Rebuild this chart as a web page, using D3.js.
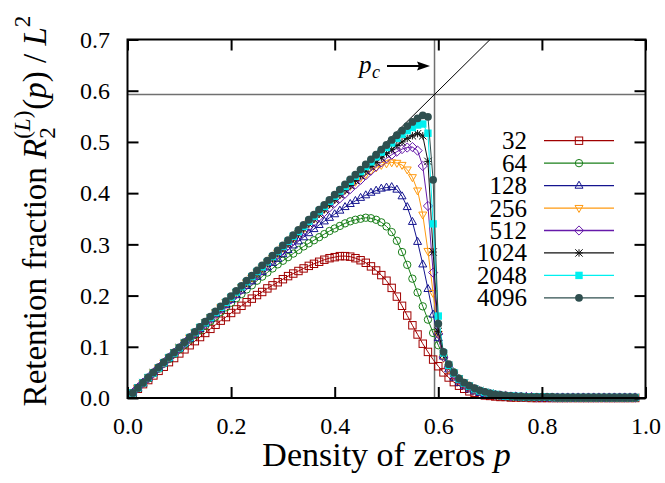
<!DOCTYPE html>
<html><head><meta charset="utf-8">
<script src="https://cdn.jsdelivr.net/npm/d3@7"></script>
<style>
body{margin:0;background:#fff}
svg{display:block}
text{font-family:"Liberation Serif","Times New Roman",serif;fill:#000}
</style></head>
<body><svg id="c" width="665" height="483"></svg>
<script>
// ---------------- DATA ----------------
const pGrid = d3.range(1, 99).map(i => i / 100); // p = 0.01 ... 0.98
const sizeLabels = ["32", "64", "128", "256", "512", "1024", "2048", "4096"];
const xTickValues = [0, 0.2, 0.4, 0.6, 0.8, 1.0];
const yTickValues = [0, 0.1, 0.2, 0.3, 0.4, 0.5, 0.6, 0.7];
const pCritical = 0.5927;

const L32 = [
0.009,0.018,0.027,0.035,0.044,0.053,0.061,0.070,0.078,0.087,
0.095,0.103,0.111,0.119,0.127,0.135,0.143,0.151,0.158,0.166,
0.173,0.180,0.187,0.194,0.201,0.207,0.214,0.220,0.226,0.232,
0.238,0.243,0.248,0.253,0.258,0.262,0.266,0.270,0.273,0.275,
0.277,0.277,0.276,0.273,0.269,0.264,0.257,0.249,0.240,0.229,
0.215,0.198,0.180,0.161,0.142,0.124,0.106,0.090,0.075,0.062,
0.050,0.040,0.031,0.024,0.018,0.013,0.010,0.007,0.005,0.004,
0.003,0.002,0.002,0.001,0.001,0.001,0.001,0.000,0.000,0.000,
0.000,0.000,0.000,0.000,0.000,0.000,0.000,0.000,0.000,0.000,
0.000,0.000,0.000,0.000,0.000,0.000,0.000,0.000];
const L64 = [
0.010,0.019,0.029,0.038,0.048,0.057,0.067,0.076,0.086,0.095,
0.104,0.114,0.123,0.132,0.141,0.150,0.159,0.168,0.177,0.186,
0.195,0.203,0.212,0.220,0.229,0.237,0.245,0.253,0.261,0.268,
0.275,0.282,0.289,0.296,0.302,0.308,0.314,0.320,0.326,0.331,
0.336,0.341,0.345,0.348,0.350,0.352,0.351,0.348,0.343,0.335,
0.324,0.307,0.285,0.260,0.233,0.206,0.179,0.153,0.127,0.103,
0.082,0.064,0.050,0.038,0.029,0.022,0.016,0.012,0.009,0.007,
0.005,0.004,0.003,0.002,0.002,0.001,0.001,0.001,0.001,0.001,
0.001,0.001,0.000,0.000,0.000,0.000,0.000,0.000,0.000,0.000,
0.000,0.000,0.000,0.000,0.000,0.000,0.000,0.000];
const L128 = [
0.010,0.020,0.029,0.039,0.049,0.059,0.068,0.078,0.088,0.097,
0.107,0.116,0.126,0.135,0.145,0.154,0.164,0.173,0.182,0.192,
0.201,0.210,0.219,0.228,0.237,0.246,0.255,0.264,0.272,0.281,
0.289,0.298,0.306,0.314,0.322,0.330,0.338,0.345,0.352,0.359,
0.366,0.373,0.379,0.385,0.391,0.396,0.401,0.405,0.409,0.411,
0.412,0.407,0.394,0.373,0.344,0.305,0.261,0.213,0.163,0.117,
0.081,0.056,0.040,0.030,0.023,0.017,0.013,0.010,0.008,0.006,
0.005,0.004,0.003,0.003,0.002,0.002,0.002,0.001,0.001,0.001,
0.001,0.001,0.001,0.001,0.001,0.001,0.001,0.001,0.001,0.001,
0.001,0.001,0.001,0.001,0.001,0.001,0.001,0.001];
const L256 = [
0.010,0.020,0.030,0.040,0.050,0.059,0.069,0.079,0.089,0.099,
0.108,0.118,0.128,0.138,0.148,0.157,0.167,0.177,0.187,0.196,
0.206,0.216,0.225,0.235,0.245,0.254,0.264,0.273,0.283,0.293,
0.303,0.312,0.322,0.331,0.341,0.350,0.360,0.369,0.379,0.388,
0.397,0.406,0.414,0.422,0.430,0.437,0.444,0.450,0.455,0.458,
0.460,0.459,0.455,0.446,0.431,0.405,0.358,0.287,0.205,0.125,
0.078,0.057,0.044,0.034,0.027,0.021,0.016,0.013,0.010,0.008,
0.006,0.005,0.004,0.003,0.002,0.002,0.002,0.001,0.001,0.001,
0.001,0.001,0.001,0.001,0.001,0.001,0.001,0.001,0.001,0.001,
0.001,0.001,0.001,0.001,0.001,0.001,0.001,0.001];
const L512 = [
0.010,0.020,0.030,0.039,0.049,0.059,0.068,0.078,0.088,0.097,
0.107,0.117,0.126,0.136,0.145,0.155,0.165,0.174,0.184,0.193,
0.203,0.212,0.222,0.231,0.241,0.250,0.260,0.269,0.279,0.288,
0.298,0.307,0.316,0.326,0.335,0.344,0.354,0.363,0.372,0.381,
0.390,0.399,0.408,0.417,0.426,0.435,0.444,0.452,0.460,0.468,
0.475,0.481,0.486,0.489,0.490,0.483,0.453,0.375,0.245,0.125,
0.080,0.060,0.046,0.036,0.028,0.022,0.017,0.013,0.010,0.008,
0.006,0.005,0.004,0.003,0.003,0.002,0.002,0.002,0.001,0.001,
0.001,0.001,0.001,0.001,0.001,0.001,0.001,0.001,0.001,0.001,
0.001,0.001,0.001,0.001,0.001,0.001,0.001,0.001];
const L1024 = [
0.010,0.020,0.030,0.039,0.049,0.059,0.069,0.078,0.088,0.098,
0.107,0.117,0.127,0.137,0.146,0.156,0.166,0.175,0.185,0.195,
0.205,0.214,0.224,0.234,0.243,0.253,0.263,0.272,0.282,0.292,
0.301,0.311,0.320,0.330,0.340,0.349,0.359,0.368,0.378,0.387,
0.397,0.406,0.415,0.425,0.434,0.443,0.452,0.460,0.469,0.477,
0.485,0.493,0.500,0.507,0.512,0.516,0.512,0.462,0.285,0.130,
0.085,0.063,0.048,0.037,0.029,0.023,0.018,0.014,0.011,0.009,
0.007,0.005,0.004,0.003,0.003,0.002,0.002,0.002,0.002,0.001,
0.001,0.001,0.001,0.001,0.001,0.001,0.001,0.001,0.001,0.001,
0.001,0.001,0.001,0.001,0.001,0.001,0.001,0.001];
const L2048 = [
0.010,0.020,0.030,0.040,0.049,0.059,0.069,0.079,0.088,0.098,
0.108,0.118,0.128,0.138,0.147,0.157,0.167,0.177,0.187,0.197,
0.207,0.217,0.227,0.237,0.247,0.256,0.266,0.276,0.286,0.296,
0.306,0.316,0.325,0.335,0.345,0.355,0.365,0.374,0.384,0.394,
0.404,0.413,0.423,0.433,0.442,0.452,0.461,0.471,0.480,0.489,
0.498,0.507,0.515,0.522,0.528,0.533,0.535,0.517,0.340,0.160,
0.088,0.064,0.049,0.037,0.029,0.023,0.018,0.014,0.011,0.009,
0.007,0.005,0.004,0.004,0.003,0.003,0.002,0.002,0.002,0.002,
0.002,0.001,0.001,0.001,0.001,0.001,0.001,0.001,0.001,0.001,
0.001,0.001,0.001,0.001,0.001,0.001,0.001,0.001];
const L4096 = [
0.010,0.020,0.030,0.040,0.050,0.060,0.070,0.080,0.089,0.099,
0.109,0.119,0.129,0.139,0.149,0.159,0.169,0.179,0.189,0.199,
0.209,0.219,0.229,0.239,0.249,0.259,0.268,0.278,0.288,0.298,
0.308,0.318,0.328,0.338,0.348,0.358,0.368,0.377,0.387,0.397,
0.407,0.417,0.427,0.436,0.446,0.456,0.466,0.475,0.485,0.494,
0.504,0.513,0.522,0.531,0.539,0.546,0.552,0.549,0.426,0.145,
0.090,0.066,0.050,0.038,0.030,0.024,0.019,0.015,0.012,0.009,
0.007,0.006,0.005,0.004,0.003,0.003,0.002,0.002,0.002,0.002,
0.002,0.002,0.001,0.001,0.001,0.001,0.001,0.001,0.001,0.001,
0.001,0.001,0.001,0.001,0.001,0.001,0.001,0.001];

const seriesValues = [L32, L64, L128, L256, L512, L1024, L2048, L4096];
const seriesColors = ["#a00000", "#1a7f1a", "#14148f", "#ff9a10", "#661aaa", "#111111", "#00f0f0", "#2f4f4f"];
const seriesMarkers = ["square", "circle", "triUp", "triDown", "diamond", "star", "fsquare", "fcircle"];

// ---------------- LAYOUT ----------------
const svg = d3.select("#c");
const plot = {left: 127.5, right: 645.5, top: 39.5, bottom: 398};
const x = d3.scaleLinear([0, 1], [plot.left, plot.right]);
const y = d3.scaleLinear([0, 0.7], [plot.bottom, plot.top]);

// reference lines
svg.append("line").attr("x1", x(0)).attr("x2", x(1)).attr("y1", y(pCritical)).attr("y2", y(pCritical))
  .attr("stroke", "#707070").attr("stroke-width", 1.5);
svg.append("line").attr("x1", x(pCritical)).attr("x2", x(pCritical)).attr("y1", y(0)).attr("y2", y(0.7))
  .attr("stroke", "#707070").attr("stroke-width", 1.5);
svg.append("line").attr("x1", x(0)).attr("y1", y(0)).attr("x2", x(0.7)).attr("y2", y(0.7))
  .attr("stroke", "#000").attr("stroke-width", 1);

// marker drawing
function marker(g, type, cx, cy, color) {
  const s = 3.7;
  switch (type) {
    case "square":
      g.append("rect").attr("x", cx - s).attr("y", cy - s).attr("width", 2 * s).attr("height", 2 * s)
        .attr("fill", "none").attr("stroke", color).attr("stroke-width", 1); break;
    case "circle":
      g.append("circle").attr("cx", cx).attr("cy", cy).attr("r", s)
        .attr("fill", "none").attr("stroke", color).attr("stroke-width", 1); break;
    case "triUp":
      g.append("path").attr("d", `M${cx},${cy - 4.4}L${cx + 4},${cy + 2.6}L${cx - 4},${cy + 2.6}Z`)
        .attr("fill", "none").attr("stroke", color).attr("stroke-width", 1); break;
    case "triDown":
      g.append("path").attr("d", `M${cx},${cy + 4.4}L${cx + 4},${cy - 2.6}L${cx - 4},${cy - 2.6}Z`)
        .attr("fill", "none").attr("stroke", color).attr("stroke-width", 1); break;
    case "diamond":
      g.append("path").attr("d", `M${cx},${cy - 4.6}L${cx + 4.6},${cy}L${cx},${cy + 4.6}L${cx - 4.6},${cy}Z`)
        .attr("fill", "none").attr("stroke", color).attr("stroke-width", 1); break;
    case "star":
      g.append("path").attr("d",
        `M${cx - s},${cy}H${cx + s}M${cx},${cy - s}V${cy + s}M${cx - s},${cy - s}L${cx + s},${cy + s}M${cx - s},${cy + s}L${cx + s},${cy - s}`)
        .attr("fill", "none").attr("stroke", color).attr("stroke-width", 1); break;
    case "fsquare":
      g.append("rect").attr("x", cx - s).attr("y", cy - s).attr("width", 2 * s).attr("height", 2 * s)
        .attr("fill", color).attr("stroke", "none"); break;
    case "fcircle":
      g.append("circle").attr("cx", cx).attr("cy", cy).attr("r", 3.9)
        .attr("fill", color).attr("stroke", "none"); break;
  }
}

// data series
const line = d3.line().x((d, i) => x(pGrid[i])).y(d => y(d));
seriesValues.forEach((vals, k) => {
  const g = svg.append("g");
  g.append("path").attr("d", line(vals)).attr("fill", "none")
    .attr("stroke", seriesColors[k]).attr("stroke-width", 1);
  vals.forEach((v, i) => marker(g, seriesMarkers[k], x(pGrid[i]), y(v), seriesColors[k]));
});

// legend
const legX0 = 544, legX1 = 614, legTextX = 527, legY0 = 140.7, legDY = 22.45;
sizeLabels.forEach((lab, k) => {
  const ly = legY0 + k * legDY;
  svg.append("line").attr("x1", legX0).attr("x2", legX1).attr("y1", ly).attr("y2", ly)
    .attr("stroke", seriesColors[k]).attr("stroke-width", 1.3);
  marker(svg, seriesMarkers[k], (legX0 + legX1) / 2, ly, seriesColors[k]);
  svg.append("text").attr("x", legTextX).attr("y", ly + 8.5).attr("text-anchor", "end")
    .attr("font-size", 25).text(lab);
});

// axes (ticks inward, mirrored)
function styleAxis(g, keepText) {
  g.attr("font-family", null).attr("font-size", null);
  g.select(".domain").remove();
  g.selectAll(".tick line").attr("stroke", "#000").attr("stroke-width", 2);
  if (keepText) g.selectAll(".tick text").attr("font-size", 24).attr("fill", "#000");
  else g.selectAll(".tick text").remove();
}
const fmt = d3.format(".1f");
svg.append("g").attr("transform", `translate(0,${plot.bottom})`)
  .call(d3.axisBottom(x).tickValues(xTickValues).tickSize(-11).tickPadding(19).tickFormat(fmt))
  .call(g => styleAxis(g, true));
svg.append("g").attr("transform", `translate(0,${plot.top})`)
  .call(d3.axisTop(x).tickValues(xTickValues).tickSize(-11))
  .call(g => styleAxis(g, false));
svg.append("g").attr("transform", `translate(${plot.left},0)`)
  .call(d3.axisLeft(y).tickValues(yTickValues).tickSize(-11).tickPadding(17.5).tickFormat(fmt))
  .call(g => styleAxis(g, true));
svg.append("g").attr("transform", `translate(${plot.right},0)`)
  .call(d3.axisRight(y).tickValues(yTickValues).tickSize(-11))
  .call(g => styleAxis(g, false));

// frame
svg.append("rect").attr("x", plot.left).attr("y", plot.top)
  .attr("width", plot.right - plot.left).attr("height", plot.bottom - plot.top)
  .attr("fill", "none").attr("stroke", "#000").attr("stroke-width", 2);

// p_c annotation
svg.append("text").attr("x", 359).attr("y", 72.5).attr("font-size", 25).attr("font-style", "italic").text("p");
svg.append("text").attr("x", 372).attr("y", 77.5).attr("font-size", 18).attr("font-style", "italic").text("c");
svg.append("line").attr("x1", 387).attr("x2", 420).attr("y1", 66).attr("y2", 66).attr("stroke", "#000").attr("stroke-width", 2);
svg.append("path").attr("d", "M430,66L417,61.5L419,66L417,70.5Z").attr("fill", "#000");

// x axis title
const xt = svg.append("text").attr("x", (plot.left + plot.right) / 2).attr("y", 466)
  .attr("text-anchor", "middle").attr("font-size", 34);
xt.append("tspan").text("Density of zeros ");
xt.append("tspan").attr("font-style", "italic").text("p");

// y axis title (rotated, built from measured pieces)
const F = 33, S = 23;
const yt = svg.append("g").attr("transform", "translate(46,211) rotate(-90)");
let cx = 0;
function piece(str, size, italic, dy) {
  const t = yt.append("text").attr("x", cx).attr("y", dy).attr("font-size", size)
    .attr("font-style", italic ? "italic" : "normal").attr("xml:space", "preserve").text(str);
  return t;
}
function adv(t) { cx += t.node().getComputedTextLength(); }
adv(piece("Retention fraction\u00a0", F, false, 0));
adv(piece("R", F, true, 0));
const sub = piece("2", S, false, 0.28 * F);
const sup0 = cx;
const a1 = piece("(", S, false, -0.5 * F); adv(a1);
const a2 = piece("L", S, true, -0.5 * F); adv(a2);
const a3 = piece(")", S, false, -0.5 * F); adv(a3);
cx = Math.max(cx, sup0 + sub.node().getComputedTextLength()) + 1;
adv(piece("(", F, false, 0));
adv(piece("p", F, true, 0));
adv(piece(")\u00a0/\u00a0", F, false, 0));
adv(piece("L", F, true, 0));
adv(piece("2", S, false, -0.5 * F));
const total = cx;
yt.selectAll("text").attr("x", function() { return +d3.select(this).attr("x") - total / 2; });
</script></body></html>
